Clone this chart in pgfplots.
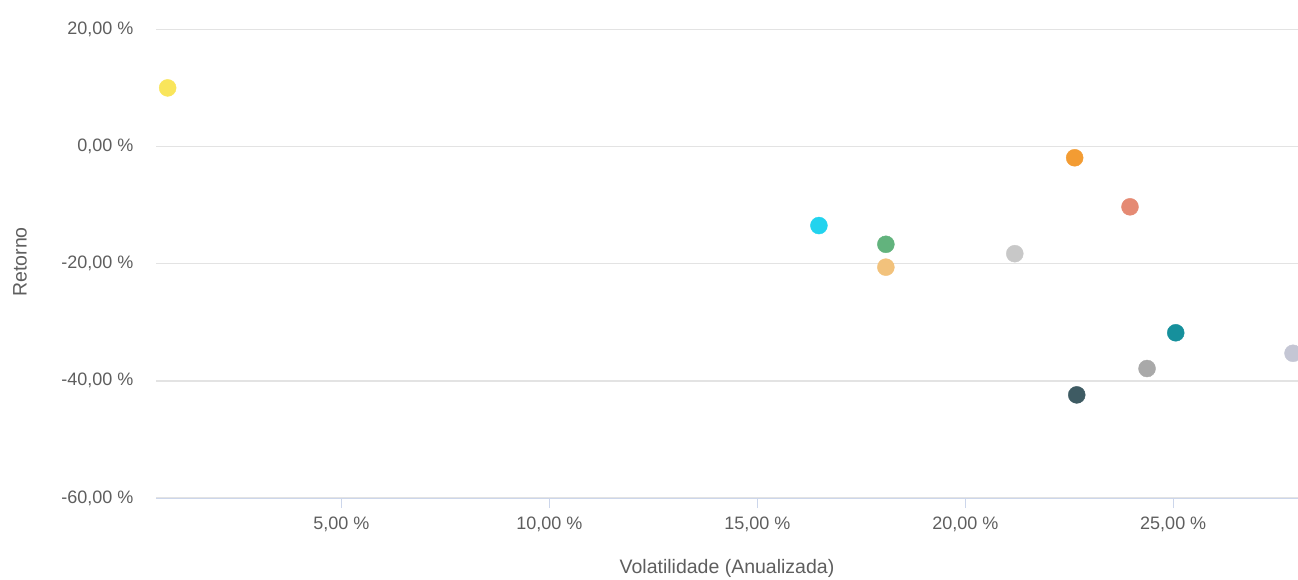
\documentclass[border=0pt]{standalone}
\usepackage{pgfplots}
\pgfplotsset{compat=1.18}
\usepackage{fontspec}
\setmainfont{Liberation Sans}
\usetikzlibrary{calc}

\definecolor{txt}{HTML}{5E5E5E}
\definecolor{gridc}{HTML}{E3E3E3}
\definecolor{axisc}{HTML}{CCD6EB}
\definecolor{cA}{HTML}{F9E55B}
\definecolor{cB}{HTML}{22D3EE}
\definecolor{cC}{HTML}{62B37D}
\definecolor{cD}{HTML}{F2C27C}
\definecolor{cE}{HTML}{C8C8C8}
\definecolor{cF}{HTML}{F39C33}
\definecolor{cG}{HTML}{E58A73}
\definecolor{cH}{HTML}{3E5B63}
\definecolor{cI}{HTML}{A9A9A9}
\definecolor{cJ}{HTML}{16909C}
\definecolor{cK}{HTML}{C4C6D4}

\begin{document}
\begin{tikzpicture}
\begin{axis}[
  scale only axis,
  width=1142bp, height=498bp,
  xmin=0.54, xmax=28.0,
  ymin=-60, ymax=25,
  axis x line*=bottom,
  axis y line*=left,
  x axis line style={draw=axisc, line width=1bp},
  y axis line style={draw=none},
  xtick={5,10,15,20,25},
  xticklabels={{5,00 \%},{10,00 \%},{15,00 \%},{20,00 \%},{25,00 \%}},
  ytick={-60,-40,-20,0,20},
  yticklabels={{-60,00 \%},{-40,00 \%},{-20,00 \%},{0,00 \%},{20,00 \%}},
  tick align=outside,
  major tick length=10bp,
  xtick style={draw=axisc, line width=1bp},
  ytick style={draw=none},
  ymajorgrids,
  major grid style={draw=gridc, line width=1.4bp},
  tick label style={font=\fontsize{18bp}{20bp}\selectfont, text=txt},
  xticklabel style={yshift=-5bp},
  yticklabel style={xshift=-9bp},
  xlabel={Volatilidade (Anualizada)},
  ylabel={Retorno},
  label style={font=\fontsize{19.5bp}{22bp}\selectfont, text=txt},
  xlabel style={at={(axis description cs:0.5,0)}, anchor=center, yshift=-70bp},
  ylabel style={at={(axis description cs:-0.1191,0.474)}, anchor=center},
  every axis plot/.append style={only marks, mark=*, mark size=8.5bp},
]
\addplot[cA, mark options={fill=cA, draw=cA}] coordinates {(0.82,10.0)};
\addplot[cB, mark options={fill=cB, draw=cB}] coordinates {(16.48,-13.5)};
\addplot[cC, mark options={fill=cC, draw=cC}] coordinates {(18.09,-16.7)};
\addplot[cD, mark options={fill=cD, draw=cD}] coordinates {(18.09,-20.6)};
\addplot[cE, mark options={fill=cE, draw=cE}] coordinates {(21.19,-18.3)};
\addplot[cF, mark options={fill=cF, draw=cF}] coordinates {(22.63,-1.93)};
\addplot[cG, mark options={fill=cG, draw=cG}] coordinates {(23.96,-10.3)};
\addplot[cH, mark options={fill=cH, draw=cH}] coordinates {(22.68,-42.4)};
\addplot[cI, mark options={fill=cI, draw=cI}] coordinates {(24.37,-37.9)};
\addplot[cJ, mark options={fill=cJ, draw=cJ}] coordinates {(25.06,-31.8)};
\addplot[cK, mark options={fill=cK, draw=cK}] coordinates {(27.88,-35.3)};
\end{axis}
\pgfresetboundingbox
\path ($(current axis.south west)+(-156bp,-81bp)$) rectangle (current axis.north east);
\end{tikzpicture}
\end{document}
